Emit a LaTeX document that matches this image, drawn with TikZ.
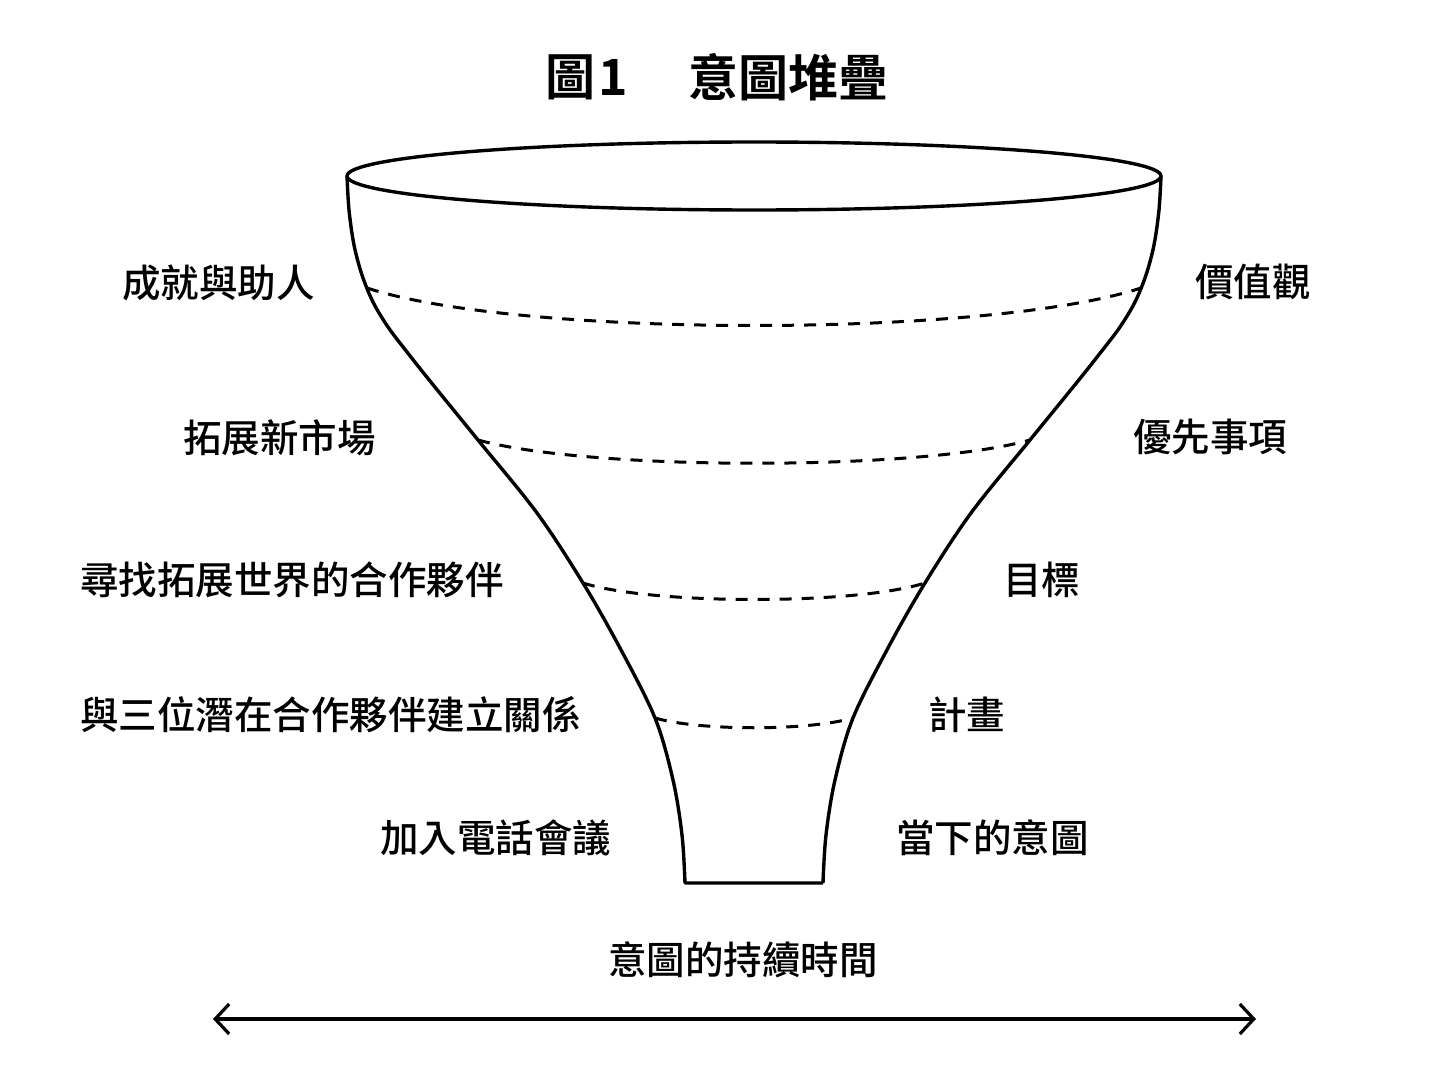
\documentclass[tikz,border=0pt]{standalone}
\usepackage{fontspec}
\newfontfamily\cjk{Noto Sans CJK TC}[UprightFont=* Medium, BoldFont=* Bold]
\usetikzlibrary{arrows.meta}
\begin{document}
\begin{tikzpicture}[x=0.5pt,y=-0.5pt,
  outline/.style={line width=1.7pt, line join=round},
  layer/.style={line width=1.5pt, dash pattern=on 6pt off 5pt},
  lbl/.style={inner sep=0pt, font=\cjk\fontsize{19.25}{20}\selectfont},
  ttl/.style={inner sep=0pt, font=\cjk\bfseries\fontsize{25}{26}\selectfont}]
\useasboundingbox[fill=white] (0,0) rectangle (1448,1086);

% title
\node[ttl, anchor=west] (t1) at (545,77) {圖};
\node[ttl] (t1n) at (613,77) {1};
\node[ttl, anchor=west] (t2) at (688,77) {意圖堆疊};

% funnel
\draw[outline] (754,176) ellipse [x radius=407, y radius=34];
\draw[outline] plot[smooth, tension=0.55] coordinates {(347,176) (349,210) (354,245) (362,275) (373,302) (388,327) (407,352) (430,381) (478,440) (537,513) (583,583) (620,648) (655,718) (673,780) (682,835) (685,883)}
  -- (823,883)
  plot[smooth, tension=0.55] coordinates {(823,883) (826,835) (835,780) (853,718) (888,648) (925,583) (971,513) (1030,440) (1078,381) (1101,352) (1120,327) (1135,302) (1146,275) (1154,245) (1159,210) (1161,176)};

% layer borders
\draw[layer] (367,288) .. controls (520,338) and (988,338) .. (1141,288);
\draw[layer] (478,440) .. controls (590,471) and (920,471) .. (1030,440);
\draw[layer] (583,583) .. controls (652,605) and (856,605) .. (925,583);
\draw[layer] (655,718) .. controls (700,731) and (808,731) .. (853,718);

% left labels
\node[lbl, anchor=west] (l1) at (122,283) {成就與助人};
\node[lbl, anchor=west] (l2) at (183,438) {拓展新市場};
\node[lbl, anchor=west] (l3) at (80,580) {尋找拓展世界的合作夥伴};
\node[lbl, anchor=west] (l4) at (80,715) {與三位潛在合作夥伴建立關係};
\node[lbl, anchor=west] (l5) at (380,838) {加入電話會議};

% right labels
\node[lbl, anchor=west] (r1) at (1195,282) {價值觀};
\node[lbl, anchor=west] (r2) at (1133,437) {優先事項};
\node[lbl, anchor=west] (r3) at (1003,580) {目標};
\node[lbl, anchor=west] (r4) at (928,715) {計畫};
\node[lbl, anchor=west] (r5) at (896,838) {當下的意圖};

% duration axis
\node[lbl, anchor=west] (dur) at (608,960) {意圖的持續時間};
\coordinate (a1) at (213,1019);
\coordinate (a2) at (1256,1019);
\draw[line width=1.6pt, {Straight Barb[length=7pt, width=15pt, line width=1.6pt]}-{Straight Barb[length=7pt, width=15pt, line width=1.6pt]}] (a1) -- (a2);
\end{tikzpicture}
\end{document}
